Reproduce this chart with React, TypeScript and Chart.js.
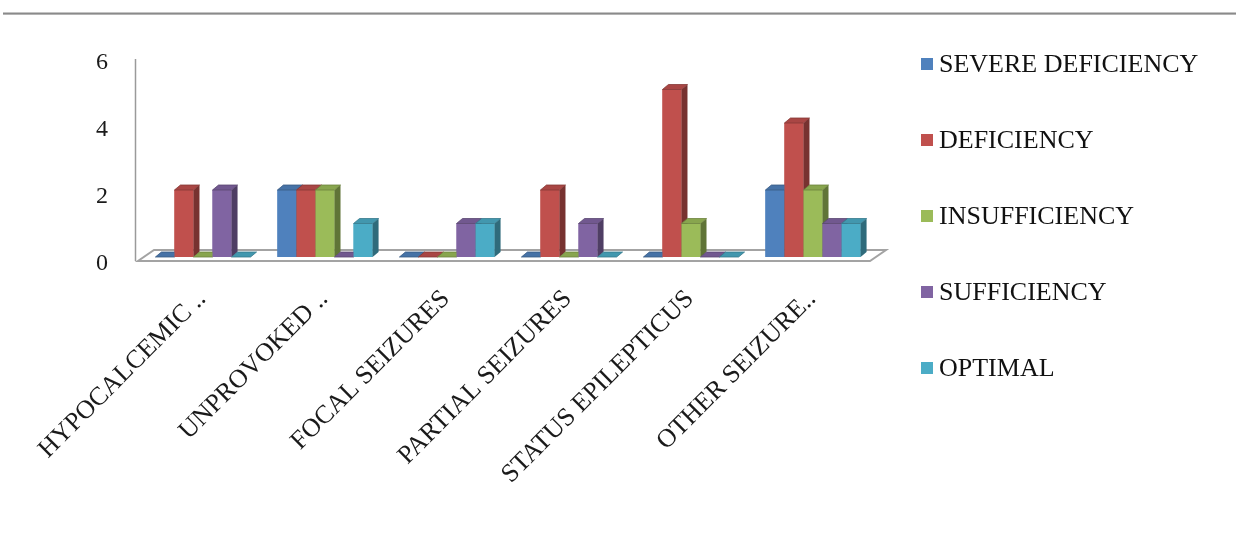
import { useEffect, useRef } from 'react';
import { Chart, registerables } from 'chart.js';

Chart.register(...registerables);

const categories = [
  'HYPOCALCEMIC ..',
  'UNPROVOKED ..',
  'FOCAL SEIZURES',
  'PARTIAL SEIZURES',
  'STATUS EPILEPTICUS',
  'OTHER SEIZURE..',
];

const seriesNames = ['SEVERE DEFICIENCY', 'DEFICIENCY', 'INSUFFICIENCY', 'SUFFICIENCY', 'OPTIMAL'];

const severeDeficiency = [0, 2, 0, 0, 0, 2];
const deficiency = [2, 2, 0, 2, 5, 4];
const insufficiency = [0, 2, 0, 0, 1, 2];
const sufficiency = [2, 0, 1, 1, 0, 1];
const optimal = [0, 1, 1, 0, 0, 1];

const seriesValues = [severeDeficiency, deficiency, insufficiency, sufficiency, optimal];
const seriesColors = ['#4F81BD', '#C0504D', '#9BBB59', '#8064A2', '#4BACC6'];

const yTicks = [0, 2, 4, 6];

const SERIF = '"Liberation Serif", "Times New Roman", serif';

function shade(hex: string, f: number): string {
  const n = parseInt(hex.slice(1), 16);
  const r = Math.round(((n >> 16) & 255) * f);
  const g = Math.round(((n >> 8) & 255) * f);
  const b = Math.round((n & 255) * f);
  return `rgb(${Math.min(255, r)},${Math.min(255, g)},${Math.min(255, b)})`;
}

// depth of each bar (extruded toward upper right)
const DX = 6;
const DY = -5;

const pagePlugin = {
  id: 'pageDecor',
  beforeDraw(chart: any) {
    const { ctx, width } = chart;
    ctx.save();
    ctx.fillStyle = '#ffffff';
    ctx.fillRect(0, 0, width, chart.height);
    // horizontal rule at top
    ctx.fillStyle = '#c4c4c4';
    ctx.fillRect(3, 12, width - 3, 1);
    ctx.fillStyle = '#8a8a8a';
    ctx.fillRect(3, 13, width - 3, 1);
    ctx.fillStyle = '#b4b4b4';
    ctx.fillRect(3, 14, width - 3, 1);
    ctx.restore();
  },
  beforeDatasetsDraw(chart: any) {
    const { ctx, chartArea } = chart;
    const L = chartArea.left;
    const R = chartArea.right;
    const B = chartArea.bottom;
    ctx.save();
    // floor
    ctx.beginPath();
    ctx.moveTo(L - 4, B + 4);
    ctx.lineTo(R - 4, B + 4);
    ctx.lineTo(R + 12, B - 7);
    ctx.lineTo(L + 12, B - 7);
    ctx.closePath();
    ctx.fillStyle = '#ffffff';
    ctx.fill();
    ctx.strokeStyle = '#a3a3a3';
    ctx.lineWidth = 2;
    ctx.stroke();
    // value axis line
    ctx.beginPath();
    ctx.moveTo(L - 6.5, chartArea.top + 3);
    ctx.lineTo(L - 6.5, B + 4);
    ctx.strokeStyle = '#9a9a9a';
    ctx.lineWidth = 1.5;
    ctx.stroke();
    ctx.restore();
  },
  afterDatasetsDraw(chart: any) {
    const { ctx } = chart;
    const metas = chart.data.datasets.map((_: any, i: number) => chart.getDatasetMeta(i));
    ctx.save();
    for (let j = 0; j < categories.length; j++) {
      for (let d = 0; d < metas.length; d++) {
        const el = metas[d].data[j];
        if (!el) continue;
        const { x, y, base, width } = el.getProps(['x', 'y', 'base', 'width'], true);
        const left = x - width / 2;
        const right = x + width / 2;
        const top = Math.min(y, base);
        const bottom = Math.max(y, base);
        const color = seriesColors[d];
        // front face
        ctx.fillStyle = color;
        ctx.fillRect(left, top, width, bottom - top);
        // side face
        ctx.beginPath();
        ctx.moveTo(right, top);
        ctx.lineTo(right + DX, top + DY);
        ctx.lineTo(right + DX, bottom + DY);
        ctx.lineTo(right, bottom);
        ctx.closePath();
        ctx.fillStyle = shade(color, 0.62);
        ctx.fill();
        // top face
        ctx.beginPath();
        ctx.moveTo(left, top);
        ctx.lineTo(left + DX, top + DY);
        ctx.lineTo(right + DX, top + DY);
        ctx.lineTo(right, top);
        ctx.closePath();
        ctx.fillStyle = shade(color, 0.88);
        ctx.fill();
        ctx.strokeStyle = shade(color, 0.7);
        ctx.lineWidth = 0.8;
        ctx.stroke();
      }
    }
    ctx.restore();
  },
  afterDraw(chart: any) {
    const { ctx } = chart;
    ctx.save();
    ctx.font = `26px ${SERIF}`;
    ctx.textBaseline = 'middle';
    ctx.textAlign = 'left';
    chart.data.datasets.forEach((ds: any, i: number) => {
      const cy = 64 + i * 76;
      ctx.fillStyle = seriesColors[i];
      ctx.fillRect(921, cy - 6, 12, 12);
      ctx.fillStyle = '#111111';
      ctx.fillText(ds.label, 939, cy + 1);
    });
    ctx.restore();
  },
};

export default function App() {
  const canvasRef = useRef<HTMLCanvasElement | null>(null);

  useEffect(() => {
    const canvas = canvasRef.current;
    if (!canvas) return;
    const chart = new Chart(canvas, {
      type: 'bar',
      data: {
        labels: categories,
        datasets: seriesNames.map((name, i) => ({
          label: name,
          data: seriesValues[i],
          backgroundColor: seriesColors[i],
          borderWidth: 0,
          barPercentage: 1,
          categoryPercentage: 0.78,
        })),
      },
      options: {
        animation: false,
        responsive: true,
        maintainAspectRatio: false,
        layout: { padding: { left: 0, top: 56, right: 362, bottom: 0 } },
        plugins: {
          legend: { display: false },
          tooltip: { enabled: false },
        },
        scales: {
          x: {
            grid: { display: false },
            border: { display: false },
            ticks: {
              autoSkip: false,
              minRotation: 45,
              maxRotation: 45,
              padding: 19,
              labelOffset: -1,
              color: '#1a1a1a',
              font: { family: SERIF, size: 26 },
            },
            afterFit: (s: any) => {
              s.height = 543 - 257;
            },
          },
          y: {
            min: 0,
            max: 6,
            grid: { display: false },
            border: { display: false },
            ticks: {
              padding: 26,
              labelOffset: 7,
              color: '#1a1a1a',
              font: { family: SERIF, size: 24 },
            },
            afterBuildTicks: (s: any) => {
              s.ticks = yTicks.map((v) => ({ value: v }));
            },
            afterFit: (s: any) => {
              s.width = 142;
            },
          },
        },
      },
      plugins: [pagePlugin],
    });
    return () => chart.destroy();
  }, []);

  return (
    <div style={{ position: 'absolute', left: 0, top: 0, width: 1236, height: 543 }}>
      <canvas ref={canvasRef} />
    </div>
  );
}
